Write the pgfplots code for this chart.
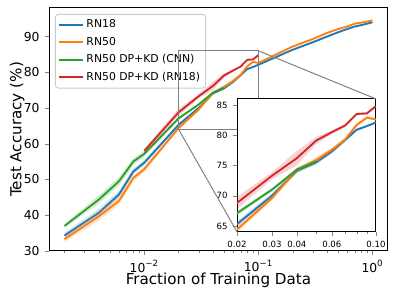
\documentclass[border=0pt]{standalone}
\usepackage{fontspec}
\setmainfont{DejaVu Sans}
\usepackage{pgfplots}
\pgfplotsset{compat=1.18}
\usepackage{pgfplotstable}

\definecolor{tabblue}{HTML}{1F77B4}
\definecolor{taborange}{HTML}{FF7F0E}
\definecolor{tabgreen}{HTML}{2CA02C}
\definecolor{tabred}{HTML}{D62728}
\definecolor{cgray}{HTML}{808080}

\pgfplotstableread{
x y
0.002 34.3
0.004 40.7
0.006 45.8
0.008 52.2
0.01 54.7
0.02 65.3
0.03 70.0
0.04 74.1
0.05 75.5
0.06 77.3
0.07 79.2
0.08 80.9
0.09 81.5
0.1 82.1
0.2 86.3
0.3 88.4
0.4 90.0
0.5 91.2
0.6 92.1
0.7 92.8
0.8 93.2
0.9 93.6
1.0 94.0
}\rnA

\pgfplotstableread{
x y
0.002 33.3
0.004 39.7
0.006 44.0
0.008 50.4
0.01 52.9
0.02 64.4
0.03 69.6
0.04 74.3
0.05 75.9
0.06 77.6
0.07 79.3
0.08 81.7
0.09 82.9
0.1 82.6
0.2 87.2
0.3 89.3
0.4 91.0
0.5 92.1
0.6 92.8
0.7 93.6
0.8 93.9
0.9 94.2
1.0 94.5
}\rnB

\pgfplotstableread{
x y
0.002 37.0
0.004 44.4
0.006 49.5
0.008 55.0
0.01 57.2
0.02 67.1
0.03 71.0
0.04 74.3
0.05 75.6
}\rnC

\pgfplotstableread{
x y
0.01 58.0
0.02 68.8
0.03 73.3
0.04 76.2
0.05 79.1
0.06 80.5
0.07 81.6
0.08 83.5
0.09 83.6
0.1 84.8
}\rnD

% spread bands (upper edge forward, lower edge back)
\newcommand{\bandA}{\addplot[fill=tabblue, fill opacity=0.2, draw=none, forget plot] coordinates {
(0.002,35.1)(0.004,41.8)(0.006,46.8)(0.008,53.0)(0.01,55.4)(0.02,65.8)(0.03,70.4)(0.04,74.5)(0.05,75.9)(0.06,77.6)(0.07,79.5)(0.08,81.1)(0.09,81.7)(0.1,82.3)(0.2,86.5)(0.3,88.6)(0.4,90.2)(0.5,91.4)(0.6,92.3)(0.7,93.0)(0.8,93.4)(0.9,93.8)(1,94.2)
(1,93.8)(0.9,93.4)(0.8,93.0)(0.7,92.6)(0.6,91.9)(0.5,91.0)(0.4,89.8)(0.3,88.2)(0.2,86.1)(0.1,81.9)(0.09,81.3)(0.08,80.7)(0.07,78.9)(0.06,77.0)(0.05,75.1)(0.04,73.7)(0.03,69.6)(0.02,64.8)(0.01,54.0)(0.008,51.4)(0.006,44.9)(0.004,39.8)(0.002,33.5)} -- cycle;}
\newcommand{\bandB}{\addplot[fill=taborange, fill opacity=0.2, draw=none, forget plot] coordinates {
(0.002,34.1)(0.004,41.0)(0.006,45.3)(0.008,51.3)(0.01,53.7)(0.02,64.9)(0.03,70.0)(0.04,74.7)(0.05,76.4)(0.06,78.0)(0.07,79.6)(0.08,82.0)(0.09,83.1)(0.1,82.8)(0.2,87.4)(0.3,89.5)(0.4,91.2)(0.5,92.3)(0.6,93.0)(0.7,93.8)(0.8,94.1)(0.9,94.4)(1,94.7)
(1,94.3)(0.9,94.0)(0.8,93.7)(0.7,93.4)(0.6,92.6)(0.5,91.9)(0.4,90.8)(0.3,89.1)(0.2,87.0)(0.1,82.4)(0.09,82.7)(0.08,81.4)(0.07,79.0)(0.06,77.2)(0.05,75.4)(0.04,73.9)(0.03,69.2)(0.02,63.9)(0.01,52.1)(0.008,49.5)(0.006,42.8)(0.004,38.5)(0.002,32.5)} -- cycle;}
\newcommand{\bandC}{\addplot[fill=tabgreen, fill opacity=0.2, draw=none, forget plot] coordinates {
(0.002,37.5)(0.004,45.6)(0.006,50.7)(0.008,56.0)(0.01,58.0)(0.02,67.5)(0.03,71.3)(0.04,74.6)(0.05,75.9)
(0.05,75.3)(0.04,74.0)(0.03,70.7)(0.02,66.7)(0.01,56.4)(0.008,54.0)(0.006,48.3)(0.004,43.2)(0.002,36.5)} -- cycle;}
\newcommand{\bandD}{\addplot[fill=tabred, fill opacity=0.2, draw=none, forget plot] coordinates {
(0.01,58.6)(0.02,69.8)(0.03,73.9)(0.04,77.4)(0.05,79.7)(0.06,80.8)(0.07,81.9)(0.08,83.7)(0.09,83.8)(0.1,85.0)
(0.1,84.6)(0.09,83.4)(0.08,83.3)(0.07,81.3)(0.06,80.2)(0.05,78.5)(0.04,75.0)(0.03,72.7)(0.02,67.8)(0.01,57.4)} -- cycle;}

\pgfplotsset{
  every axis/.append style={
    line width=0.7pt,
    tick align=outside,
    tick pos=left,
    major tick length=3.1pt,
    minor tick length=1.8pt,
    /pgf/number format/assume math mode=true,
  },
}

\begin{document}
\begin{tikzpicture}
\begin{axis}[
  name=main,
  at={(0,0)}, anchor=south west,
  scale only axis, width=244pt, height=175pt,
  xmode=log,
  xmin=0.001462, xmax=1.3646,
  ymin=30, ymax=98,
  xtick={0.01,0.1,1},
  xticklabels={10\textsuperscript{−2},10\textsuperscript{−1},10\textsuperscript{0}},
  minor xtick={0.002,0.003,0.004,0.005,0.006,0.007,0.008,0.009,0.02,0.03,0.04,0.05,0.06,0.07,0.08,0.09,0.2,0.3,0.4,0.5,0.6,0.7,0.8,0.9},
  ytick={30,40,50,60,70,80,90},
  tick label style={font=\fontsize{8.9}{10}\selectfont},
  xlabel={Fraction of Training Data},
  ylabel={Test Accuracy (\%)},
  label style={font=\fontsize{10.9}{12}\selectfont},
  xlabel style={at={(axis description cs:0.5,-0.14)}, anchor=base},
  ylabel style={at={(axis description cs:-0.094,0.5)}, anchor=center},
  legend cell align=left,
  legend style={at={(0,1)}, anchor=north west, xshift=4.3pt, yshift=-4.3pt,
    font=\fontsize{7.8}{9}\selectfont, draw=black!20, rounded corners=2pt,
    fill=white, fill opacity=0.8, text opacity=1, line width=0.7pt,
    row sep=1.2pt, inner sep=2pt},
  legend image code/.code={\draw[#1] (0pt,0pt) -- (17pt,0pt);},
]
\bandA
\addplot[tabblue, line width=1.33pt] table[x=x,y=y]{\rnA};
\bandB
\addplot[taborange, line width=1.33pt] table[x=x,y=y]{\rnB};
\bandC
\addplot[tabgreen, line width=1.33pt] table[x=x,y=y]{\rnC};
\bandD
\addplot[tabred, line width=1.33pt] table[x=x,y=y]{\rnD};
\legend{RN18,RN50,RN50 DP+KD (CNN),RN50 DP+KD (RN18)}
\coordinate (zNE) at (axis cs:0.1,86);
\coordinate (zSW) at (axis cs:0.02,64);
\end{axis}
\begin{scope}
\clip (0,0) rectangle (244pt,175pt);
\draw[cgray, line width=0.7pt] (zSW) rectangle (zNE);
\end{scope}

\begin{axis}[
  name=ins,
  at={(135.4pt,13.7pt)}, anchor=south west,
  scale only axis, width=100pt, height=95.8pt,
  xmode=log,
  xmin=0.02, xmax=0.1,
  ymin=64, ymax=86,
  xtick={0.02,0.03,0.04,0.06,0.1},
  xticklabels={0.02,0.03,0.04,0.06,0.10},
  minor xtick={0.05,0.07,0.08,0.09},
  ytick={65,70,75,80,85},
  tick label style={font=\fontsize{6.2}{7}\selectfont},
  axis background/.style={fill=white},
]
\bandA
\addplot[tabblue, line width=1.33pt] table[x=x,y=y]{\rnA};
\bandB
\addplot[taborange, line width=1.33pt] table[x=x,y=y]{\rnB};
\bandC
\addplot[tabgreen, line width=1.33pt] table[x=x,y=y]{\rnC};
\bandD
\addplot[tabred, line width=1.33pt] table[x=x,y=y]{\rnD};
\end{axis}
\draw[cgray, line width=0.7pt] (zNE) -- (ins.north east);
\draw[cgray, line width=0.7pt] (zSW) -- (ins.south west);
\pgfresetboundingbox
\path[use as bounding box] (-35.3pt,-34.6pt) rectangle (252pt,180.7pt);
\end{tikzpicture}
\end{document}
